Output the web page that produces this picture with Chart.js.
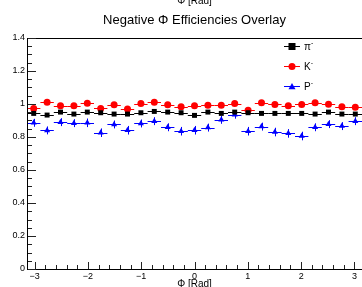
<!DOCTYPE html>
<html>
<head>
<meta charset="utf-8">
<script src="https://cdn.jsdelivr.net/npm/chart.js@4"></script>
<style>
  html, body { margin: 0; padding: 0; background: #fff; overflow: hidden; }
  #wrap { width: 362px; height: 287px; overflow: hidden; }
  canvas { display: block; }
</style>
</head>
<body>
<div id="wrap"><canvas id="chart" width="366" height="287" style="width:366px;height:287px"></canvas></div>
<script>
// Data (25 phi bins over [-pi, pi])
const nBins = 25;
const phiCenters = Array.from({ length: nBins }, (_, i) => -Math.PI + (i + 0.5) * (2 * Math.PI / nBins));
const halfBin = Math.PI / nBins;

const piEff = [0.943, 0.933, 0.951, 0.939, 0.951, 0.947, 0.939, 0.939, 0.947, 0.955, 0.951, 0.947, 0.931,
               0.951, 0.943, 0.951, 0.947, 0.943, 0.943, 0.943, 0.943, 0.939, 0.951, 0.939, 0.939];
const piErr = [0.006, 0.006, 0.006, 0.006, 0.006, 0.006, 0.006, 0.006, 0.006, 0.006, 0.006, 0.006, 0.006,
               0.006, 0.006, 0.006, 0.006, 0.006, 0.006, 0.006, 0.006, 0.006, 0.006, 0.006, 0.006];

const kEff = [0.973, 1.010, 0.990, 0.990, 1.005, 0.973, 0.995, 0.970, 1.003, 1.010, 0.995, 0.983, 0.990,
              0.993, 0.993, 1.003, 0.962, 1.007, 0.997, 0.990, 0.997, 1.007, 0.999, 0.983, 0.980];
const kErr = [0.009, 0.009, 0.009, 0.009, 0.009, 0.009, 0.009, 0.009, 0.009, 0.009, 0.009, 0.009, 0.009,
              0.009, 0.009, 0.009, 0.009, 0.009, 0.009, 0.009, 0.009, 0.009, 0.009, 0.009, 0.009];

const pEff = [0.886, 0.840, 0.890, 0.884, 0.886, 0.826, 0.876, 0.841, 0.882, 0.896, 0.859, 0.835, 0.841,
              0.857, 0.904, 0.935, 0.835, 0.863, 0.830, 0.822, 0.806, 0.859, 0.878, 0.866, 0.896];
const pErr = [0.024, 0.024, 0.024, 0.024, 0.026, 0.026, 0.024, 0.026, 0.024, 0.024, 0.024, 0.026, 0.026,
              0.024, 0.024, 0.024, 0.026, 0.024, 0.026, 0.026, 0.026, 0.024, 0.024, 0.024, 0.024];

const xTicks = [-3, -2, -1, 0, 1, 2, 3];
const yTicks = [0, 0.2, 0.4, 0.6, 0.8, 1, 1.2, 1.4];

const FONT = '"Liberation Sans", Arial, Helvetica, sans-serif';

function points(vals, errs) {
    return vals.map((v, i) => ({ x: phiCenters[i], y: v, e: errs[i] }));
}

// Error bars, drawn under the markers
const errorBars = {
    id: 'errorBars',
    beforeDatasetsDraw(chart) {
        const { ctx, scales: { x, y } } = chart;
        chart.data.datasets.forEach(ds => {
            ctx.save();
            ctx.strokeStyle = ds.borderColor;
            ctx.lineWidth = 1;
            ds.data.forEach(p => {
                const px = Math.round(x.getPixelForValue(p.x)) + 0.5;
                const py = Math.round(y.getPixelForValue(p.y)) + 0.5;
                ctx.beginPath();
                ctx.moveTo(x.getPixelForValue(p.x - halfBin), py);
                ctx.lineTo(x.getPixelForValue(p.x + halfBin), py);
                ctx.moveTo(px, y.getPixelForValue(p.y - p.e));
                ctx.lineTo(px, y.getPixelForValue(p.y + p.e));
                ctx.stroke();
            });
            ctx.restore();
        });
    }
};

// ROOT-like frame, inside ticks, titles and legend
const frame = {
    id: 'frame',
    afterDraw(chart) {
        const { ctx, chartArea: a, scales: { x, y } } = chart;
        const left = Math.round(a.left), bottom = Math.round(a.bottom);
        ctx.save();
        ctx.strokeStyle = '#000';
        ctx.lineWidth = 1;
        ctx.strokeRect(left + 0.5, Math.round(a.top) + 0.5,
                       Math.round(a.right - a.left), bottom - Math.round(a.top));

        // tick marks inside the frame
        ctx.fillStyle = '#222';
        for (let k = -16; k <= 16; k++) {
            const v = k / 5;
            const px = Math.round(x.getPixelForValue(v));
            if (px <= left || px > a.right) continue;
            const len = k % 5 === 0 ? 7 : 4;
            ctx.fillRect(px, bottom - len, 1, len);
        }
        for (let k = 0; k <= 28; k++) {
            const py = Math.round(y.getPixelForValue(k * 0.05));
            const len = k % 4 === 0 ? 8 : 4;
            ctx.fillRect(left + 1, py, len, 1);
        }

        // titles
        ctx.fillStyle = '#000';
        ctx.textAlign = 'center';
        ctx.textBaseline = 'middle';
        const cx = x.getPixelForValue(0);
        ctx.font = '10px ' + FONT;
        ctx.fillText('\u03a6 [Rad]', cx, 1);
        ctx.fillText('\u03a6 [Rad]', cx, 284);
        ctx.font = '13px ' + FONT;
        ctx.fillText('Negative \u03a6 Efficiencies Overlay', cx, 20);

        // legend
        const labels = [['\u03c0', '-'], ['K', '-'], ['P', '-']];
        const rows = [46, 66, 86];
        chart.data.datasets.forEach((ds, i) => {
            const ly = rows[i] + 0.5;
            ctx.strokeStyle = ds.borderColor;
            ctx.beginPath();
            ctx.moveTo(284, ly);
            ctx.lineTo(300, ly);
            ctx.stroke();
            ctx.fillStyle = ds.backgroundColor;
            const r = ds.pointRadius;
            ctx.beginPath();
            if (ds.pointStyle === 'rect') {
                ctx.rect(292 - r, ly - r, 2 * r, 2 * r);
            } else if (ds.pointStyle === 'circle') {
                ctx.arc(292, ly, r, 0, Math.PI * 2);
            } else {
                ctx.moveTo(292, ly - r);
                ctx.lineTo(292 + r, ly + r * 0.75);
                ctx.lineTo(292 - r, ly + r * 0.75);
                ctx.closePath();
            }
            ctx.fill();
            ctx.fillStyle = '#000';
            ctx.textAlign = 'left';
            ctx.font = '10px ' + FONT;
            ctx.fillText(labels[i][0], 304, rows[i] + 1);
            const w = ctx.measureText(labels[i][0]).width;
            ctx.font = '7px ' + FONT;
            ctx.fillText(labels[i][1], 304 + w, rows[i] - 3);
        });
        ctx.restore();
    }
};

const chart = new Chart(document.getElementById('chart').getContext('2d'), {
    type: 'scatter',
    data: {
        datasets: [
            {
                label: '\u03c0-',
                data: points(piEff, piErr),
                borderColor: '#000000',
                backgroundColor: '#000000',
                pointStyle: 'rect',
                pointRadius: 3.5,
                borderWidth: 0
            },
            {
                label: 'K-',
                data: points(kEff, kErr),
                borderColor: '#ff0000',
                backgroundColor: '#ff0000',
                pointStyle: 'circle',
                pointRadius: 3.5,
                borderWidth: 0
            },
            {
                label: 'P-',
                data: points(pEff, pErr),
                borderColor: '#0000ff',
                backgroundColor: '#0000ff',
                pointStyle: 'triangle',
                pointRadius: 3.5,
                borderWidth: 0
            }
        ]
    },
    options: {
        responsive: false,
        animation: false,
        layout: { padding: { top: 38, left: 0, right: 0, bottom: 0 } },
        plugins: {
            legend: { display: false },
            title: { display: false },
            tooltip: { enabled: false }
        },
        scales: {
            x: {
                type: 'linear',
                min: -Math.PI,
                max: Math.PI,
                grid: { display: false, drawTicks: false },
                border: { display: false },
                afterBuildTicks: scale => { scale.ticks = xTicks.map(v => ({ value: v })); },
                afterFit: scale => { scale.height = 18; scale.paddingLeft = 0; scale.paddingRight = 0; },
                ticks: {
                    color: '#000',
                    font: { family: FONT, size: 9 },
                    padding: 2,
                    maxRotation: 0,
                    callback: v => (v < 0 ? '\u2212' + Math.abs(v) : String(v))
                }
            },
            y: {
                type: 'linear',
                min: 0,
                max: 1.4,
                grid: { display: false, drawTicks: false },
                border: { display: false },
                afterBuildTicks: scale => { scale.ticks = yTicks.map(v => ({ value: v })); },
                afterFit: scale => { scale.width = 27; scale.paddingTop = 0; scale.paddingBottom = 0; },
                ticks: {
                    color: '#000',
                    font: { family: FONT, size: 9 },
                    padding: 2,
                    callback: v => String(Math.round(v * 10) / 10)
                }
            }
        }
    },
    plugins: [errorBars, frame]
});
</script>
</body>
</html>
